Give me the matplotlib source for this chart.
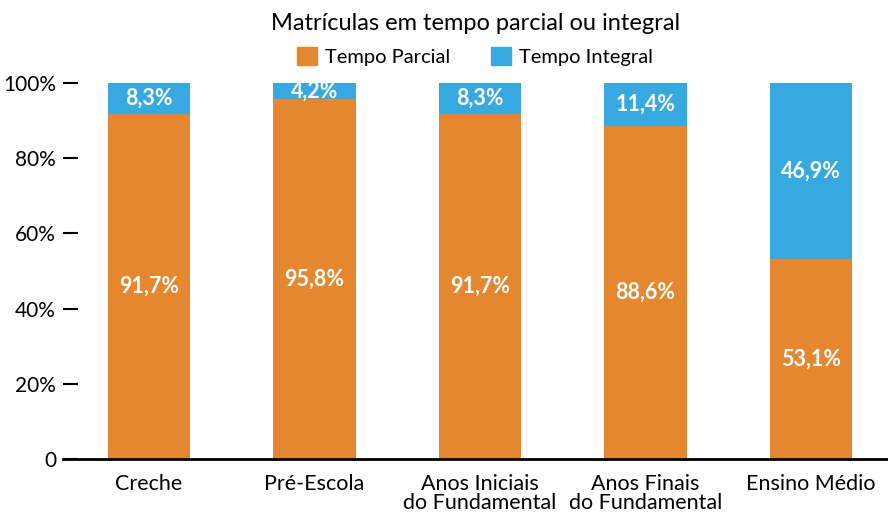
import matplotlib
matplotlib.use('Agg')
import matplotlib.pyplot as plt
from matplotlib.patches import Patch

categories = ['Creche', 'Pré-Escola', 'Anos Iniciais\ndo Fundamental',
              'Anos Finais\ndo Fundamental', 'Ensino Médio']
parcial = [91.7, 95.8, 91.7, 88.6, 53.1]
integral = [8.3, 4.2, 8.3, 11.4, 46.9]
y_ticks = [0, 20, 40, 60, 80, 100]
y_tick_labels = ['0', '20%', '40%', '60%', '80%', '100%']

ORANGE = '#E5872E'
BLUE = '#38A9E0'

plt.rcParams['font.family'] = ['Lato', 'DejaVu Sans']

fig = plt.figure(figsize=(8.88, 5.13), dpi=100)
ax = fig.add_axes([63 / 888, 54 / 513, 825 / 888, 376 / 513])

x = list(range(len(categories)))
ax.bar(x, parcial, width=0.5, color=ORANGE)
ax.bar(x, integral, width=0.5, bottom=parcial, color=BLUE)

for i in x:
    ax.text(i, parcial[i] / 2, f"{parcial[i]:.1f}%".replace('.', ','),
            ha='center', va='center', color='white', fontsize=15.5, fontweight='bold')
    ax.text(i, parcial[i] + integral[i] / 2, f"{integral[i]:.1f}%".replace('.', ','),
            ha='center', va='center', color='white', fontsize=15.5, fontweight='bold')

ax.set_xlim(-0.52, 4.465)
ax.set_ylim(0, 100)
ax.set_yticks(y_ticks)
ax.set_yticklabels(y_tick_labels, fontsize=15)
ax.set_xticks(x)
ax.set_xticklabels(categories, fontsize=15.5, linespacing=0.95)
ax.tick_params(axis='x', length=0, pad=11)
ax.tick_params(axis='y', direction='in', length=10.8, width=1.5, pad=5)

for side in ['top', 'right', 'left']:
    ax.spines[side].set_visible(False)
ax.spines['bottom'].set_linewidth(2)

fig.text(0.535, 0.955, 'Matrículas em tempo parcial ou integral',
         ha='center', va='center', fontsize=17)
handles = [Patch(color=ORANGE, label='Tempo Parcial'),
           Patch(color=BLUE, label='Tempo Integral')]
fig.legend(handles=handles, loc='center', bbox_to_anchor=(0.535, 0.89), ncol=2,
           frameon=False, fontsize=14.5, handlelength=1.0, handleheight=1.0,
           handletextpad=0.4, columnspacing=2.0)

fig.savefig('out.png', dpi=100)
